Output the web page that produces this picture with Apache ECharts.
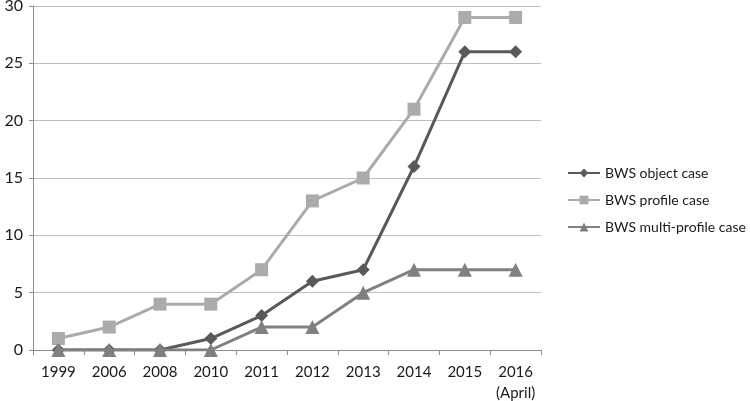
<!DOCTYPE html>
<html><head><meta charset="utf-8">
<script src="https://cdn.jsdelivr.net/npm/echarts@6/dist/echarts.min.js"></script>
<style>html,body{margin:0;padding:0;background:#fff}#c{width:750px;height:401px}</style>
</head><body><div id="c"></div>
<script>
const categories = ['1999','2006','2008','2010','2011','2012','2013','2014','2015','2016\n(April)'];
const objectCase = [0,0,0,1,3,6,7,16,26,26];
const profileCase = [1,2,4,4,7,13,15,21,29,29];
const multiProfileCase = [0,0,0,0,2,2,5,7,7,7];
const seriesNames = ['BWS object case','BWS profile case','BWS multi-profile case'];
const yTicks = {min:0, max:30, interval:5};

const font = 'Lato, "Open Sans", sans-serif';
const chart = echarts.init(document.getElementById('c'));
chart.setOption({
  animation:false,
  grid:{left:33,right:209,top:6,bottom:51,containLabel:false,outerBoundsMode:'none'},
  legend:{
    orient:'vertical', left:562, top:161, itemGap:13, itemWidth:32, itemHeight:11,
    textStyle:{fontFamily:font,fontSize:14,color:'#1a1a1a'},
    data:seriesNames
  },
  xAxis:{type:'category',data:categories,boundaryGap:true,
    axisLine:{lineStyle:{color:'#8c8c8c'}},
    axisTick:{show:true,length:5,alignWithLabel:false,lineStyle:{color:'#8c8c8c'}},
    axisLabel:{interval:0,fontFamily:font,fontSize:15,color:'#1a1a1a',margin:12,lineHeight:21}
  },
  yAxis:{type:'value',min:yTicks.min,max:yTicks.max,interval:yTicks.interval,
    axisLine:{show:true,lineStyle:{color:'#8c8c8c'}},
    axisTick:{show:true,length:4,lineStyle:{color:'#8c8c8c'}},
    splitLine:{show:true,lineStyle:{color:'#bdbdbd'}},
    axisLabel:{fontFamily:font,fontSize:16,color:'#1a1a1a',margin:10}
  },
  series:[
    {name:seriesNames[0],type:'line',data:objectCase,symbol:'diamond',symbolSize:13,
     itemStyle:{color:'#595959'},lineStyle:{width:3,color:'#595959'},z:3},
    {name:seriesNames[1],type:'line',data:profileCase,symbol:'rect',symbolSize:13,
     itemStyle:{color:'#ababab'},lineStyle:{width:3,color:'#ababab'},z:2},
    {name:seriesNames[2],type:'line',data:multiProfileCase,symbol:'triangle',symbolSize:14,
     itemStyle:{color:'#808080'},lineStyle:{width:3,color:'#808080'},z:4}
  ]
});
</script></body></html>
